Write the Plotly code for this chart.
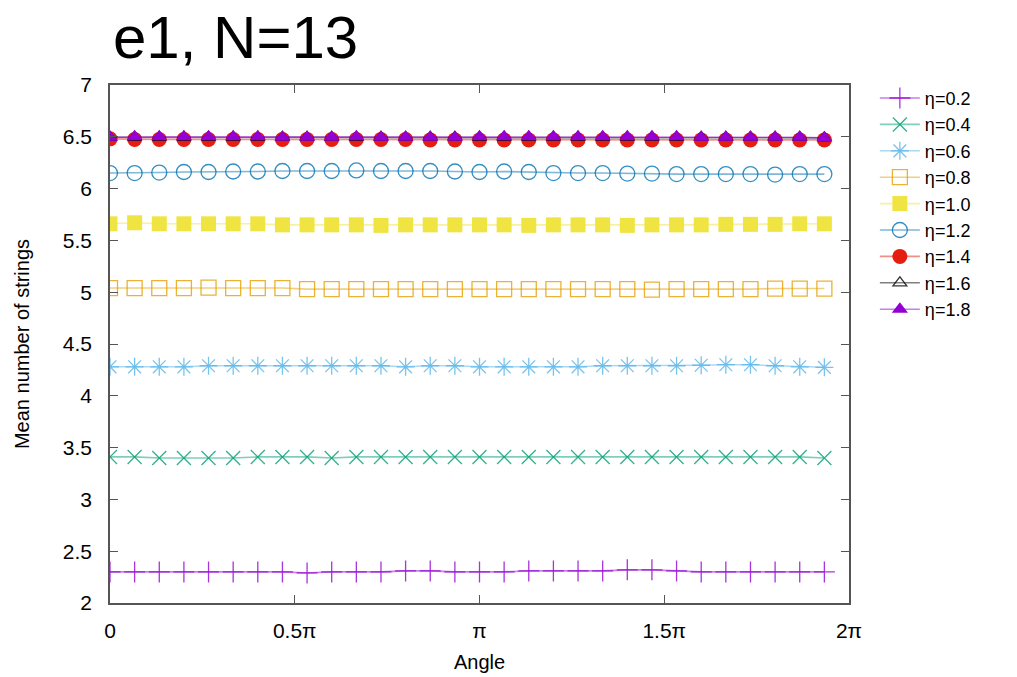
import math
import plotly.graph_objects as go

# x grid: 30 sample angles from 0 to 29/30 * 2π
angle = [k * 2 * math.pi / 30 for k in range(30)]

eta_labels = ["η=0.2", "η=0.4", "η=0.6", "η=0.8", "η=1.0", "η=1.2", "η=1.4", "η=1.6", "η=1.8"]

eta02 = [2.30, 2.30, 2.30, 2.30, 2.30, 2.30, 2.30, 2.30, 2.29, 2.30, 2.30, 2.30, 2.31, 2.31, 2.30,
         2.30, 2.30, 2.31, 2.31, 2.31, 2.31, 2.32, 2.32, 2.31, 2.30, 2.30, 2.30, 2.30, 2.30, 2.30]
eta04 = [3.41, 3.41, 3.40, 3.40, 3.40, 3.40, 3.41, 3.41, 3.41, 3.40, 3.41, 3.41, 3.41, 3.41, 3.41,
         3.41, 3.41, 3.41, 3.41, 3.41, 3.41, 3.41, 3.41, 3.41, 3.41, 3.41, 3.41, 3.41, 3.41, 3.40]
eta06 = [4.28, 4.28, 4.28, 4.28, 4.29, 4.29, 4.29, 4.29, 4.29, 4.29, 4.29, 4.29, 4.28, 4.29, 4.29,
         4.28, 4.28, 4.28, 4.28, 4.28, 4.29, 4.29, 4.29, 4.29, 4.295, 4.30, 4.30, 4.29, 4.28, 4.275]
eta08 = [5.04, 5.04, 5.04, 5.04, 5.045, 5.04, 5.04, 5.04, 5.03, 5.03, 5.03, 5.03, 5.03, 5.03, 5.03,
         5.03, 5.03, 5.03, 5.03, 5.03, 5.03, 5.03, 5.025, 5.03, 5.03, 5.03, 5.03, 5.035, 5.035, 5.035]
eta10 = [5.66, 5.67, 5.66, 5.66, 5.66, 5.66, 5.66, 5.65, 5.65, 5.65, 5.65, 5.645, 5.65, 5.65, 5.65,
         5.65, 5.65, 5.645, 5.65, 5.65, 5.65, 5.645, 5.65, 5.65, 5.65, 5.655, 5.655, 5.655, 5.66, 5.66]
eta12 = [6.15, 6.15, 6.155, 6.16, 6.16, 6.165, 6.165, 6.17, 6.17, 6.17, 6.175, 6.17, 6.17, 6.17, 6.165,
         6.16, 6.165, 6.16, 6.15, 6.15, 6.15, 6.145, 6.145, 6.14, 6.14, 6.14, 6.14, 6.135, 6.14, 6.14]
eta14 = [6.48, 6.475, 6.475, 6.475, 6.475, 6.475, 6.475, 6.475, 6.475, 6.475, 6.475, 6.475, 6.475, 6.47, 6.47,
         6.47, 6.47, 6.47, 6.47, 6.47, 6.47, 6.47, 6.47, 6.47, 6.47, 6.47, 6.47, 6.47, 6.47, 6.47]
eta16 = [6.495, 6.495, 6.495, 6.495, 6.495, 6.495, 6.495, 6.495, 6.495, 6.495, 6.495, 6.495, 6.495, 6.495, 6.495,
         6.495, 6.495, 6.495, 6.495, 6.495, 6.495, 6.495, 6.495, 6.495, 6.495, 6.495, 6.495, 6.495, 6.495, 6.49]
eta18 = [6.495, 6.50, 6.50, 6.50, 6.50, 6.50, 6.50, 6.495, 6.495, 6.495, 6.50, 6.495, 6.495, 6.495, 6.495,
         6.50, 6.50, 6.50, 6.50, 6.50, 6.50, 6.50, 6.50, 6.50, 6.495, 6.495, 6.495, 6.495, 6.495, 6.49]

series = [eta02, eta04, eta06, eta08, eta10, eta12, eta14, eta16, eta18]

colors = ["148,0,211", "0,158,115", "86,180,233", "230,159,0", "240,228,66",
          "0,114,178", "229,30,16", "0,0,0", "148,0,211"]
symbols = ["cross-thin-open", "x-thin-open", "asterisk-open", "square-open", "square",
           "circle-open", "circle", "triangle-up-open", "triangle-up"]
sizes = [15, 14, 15, 15, 15, 15, 15, 12, 14]
filled = [False, False, False, False, True, False, True, False, True]

x_tickvals = [0, 0.5 * math.pi, math.pi, 1.5 * math.pi, 2 * math.pi]
x_ticktext = ["0", "0.5π", "π", "1.5π", "2π"]
y_tickvals = [2, 2.5, 3, 3.5, 4, 4.5, 5, 5.5, 6, 6.5, 7]
y_ticktext = ["2", "2.5", "3", "3.5", "4", "4.5", "5", "5.5", "6", "6.5", "7"]

fig = go.Figure()
for lab, vals, c, sym, sz, fl in zip(eta_labels, series, colors, symbols, sizes, filled):
    if fl:
        marker = dict(symbol=sym, size=sz, color=f"rgb({c})",
                      line=dict(width=0, color=f"rgb({c})"))
    else:
        marker = dict(symbol=sym, size=sz, color=f"rgba({c},0.8)",
                      line=dict(width=1.3, color=f"rgba({c},0.75)"))
    fig.add_trace(go.Scatter(
        x=angle, y=vals, name=lab, mode="lines+markers",
        line=dict(color=f"rgba({c},0.5)", width=1.6),
        marker=marker,
    ))

font_family = "Liberation Sans, Arial, Helvetica, sans-serif"

fig.update_layout(
    width=1017, height=677,
    margin=dict(l=110, r=168, t=85, b=74, autoexpand=False),
    paper_bgcolor="white", plot_bgcolor="white",
    font=dict(family=font_family, size=20, color="black"),
    title=dict(text="e1, N=13", x=113 / 1017, xanchor="left", y=1 - 37 / 677, yanchor="middle",
               font=dict(size=60, family=font_family, color="black")),
    showlegend=True,
    legend=dict(x=1.035, xanchor="left", y=1.01, yanchor="top",
                font=dict(size=18, family=font_family, color="black"),
                bgcolor="rgba(0,0,0,0)", tracegroupgap=0, itemwidth=40),
)
fig.update_xaxes(
    range=[0, 2 * math.pi], tickvals=x_tickvals, ticktext=x_ticktext,
    showgrid=False, zeroline=False,
    showline=True, linecolor="#555555", linewidth=1.5, mirror="ticks",
    ticks="inside", ticklen=8, tickwidth=1.2, tickcolor="#555555",
    tickfont=dict(size=21), ticklabelstandoff=8,
    title=dict(text="Angle", font=dict(size=20), standoff=14),
)
fig.update_yaxes(
    range=[2, 7], tickvals=y_tickvals, ticktext=y_ticktext,
    showgrid=False, zeroline=False,
    showline=True, linecolor="#555555", linewidth=1.5, mirror="ticks",
    ticks="inside", ticklen=8, tickwidth=1.2, tickcolor="#555555",
    tickfont=dict(size=21), ticklabelstandoff=12,
    title=dict(text="Mean number of strings", font=dict(size=20), standoff=28),
)

fig.write_html("out.html")
